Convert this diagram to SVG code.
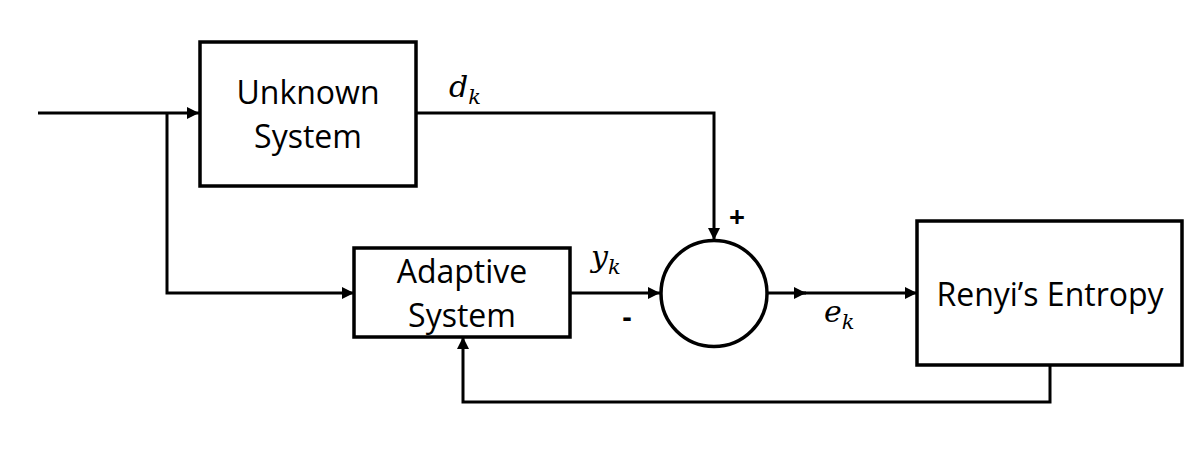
<svg xmlns="http://www.w3.org/2000/svg" width="1200" height="450" viewBox="0 0 1200 450">
<defs>
<style>
.box{fill:#fff;stroke:#000;stroke-width:3.5}
.ln{fill:none;stroke:#000;stroke-width:3}
.lbl{font-family:"Open Sans","Noto Sans",sans-serif;font-size:32px;fill:#000;text-anchor:middle}
.math{font-family:"DejaVu Serif","Liberation Serif",serif;font-style:italic;font-size:30px;fill:#000}
.sub{font-size:21px}
.sign{font-family:"Open Sans","Noto Sans",sans-serif;font-weight:bold;font-size:28px;fill:#000;text-anchor:middle}
</style>
<marker id="ah" viewBox="0 0 12 12" refX="12" refY="6" markerWidth="12" markerHeight="12" markerUnits="userSpaceOnUse" orient="auto">
<path d="M0,0 L12,6 L0,12 Z" fill="#000"/>
</marker>
</defs>
<rect width="1200" height="450" fill="#fff"/>
<g id="connectors">
<path class="ln" d="M38,113 H199" marker-end="url(#ah)"/>
<path class="ln" d="M167,113 V293 H354" marker-end="url(#ah)"/>
<path class="ln" d="M416,113 H714 V240" marker-end="url(#ah)"/>
<path class="ln" d="M570,293 H660" marker-end="url(#ah)"/>
<path class="ln" d="M767,293 H806" marker-end="url(#ah)"/>
<path class="ln" d="M800,293 H917" marker-end="url(#ah)"/>
<path class="ln" d="M1050,365 V402 H463 V337" marker-end="url(#ah)"/>
</g>
<g id="unknown-system">
<rect class="box" x="200" y="42" width="216" height="144"/>
<text class="lbl" x="308" y="104">Unknown</text>
<text class="lbl" x="308" y="148">System</text>
</g>
<g id="adaptive-system">
<rect class="box" x="354" y="248" width="216" height="89"/>
<text class="lbl" x="462" y="283">Adaptive</text>
<text class="lbl" x="462" y="327">System</text>
</g>
<g id="summing-junction">
<circle cx="714" cy="293.5" r="53" fill="#fff" stroke="#000" stroke-width="3.5"/>
<text class="sign" x="737" y="227">+</text>
<text class="sign" x="627" y="327">-</text>
</g>
<g id="renyi-entropy">
<rect class="box" x="917" y="221" width="265" height="144"/>
<text class="lbl" x="1050" y="306">Renyi’s Entropy</text>
</g>
<g id="labels">
<text class="math" x="449" y="97">d<tspan class="sub" dy="7">k</tspan></text>
<text class="math" x="591" y="267">y<tspan class="sub" dy="7">k</tspan></text>
<text class="math" x="824" y="322">e<tspan class="sub" dy="7">k</tspan></text>
</g>
</svg>
